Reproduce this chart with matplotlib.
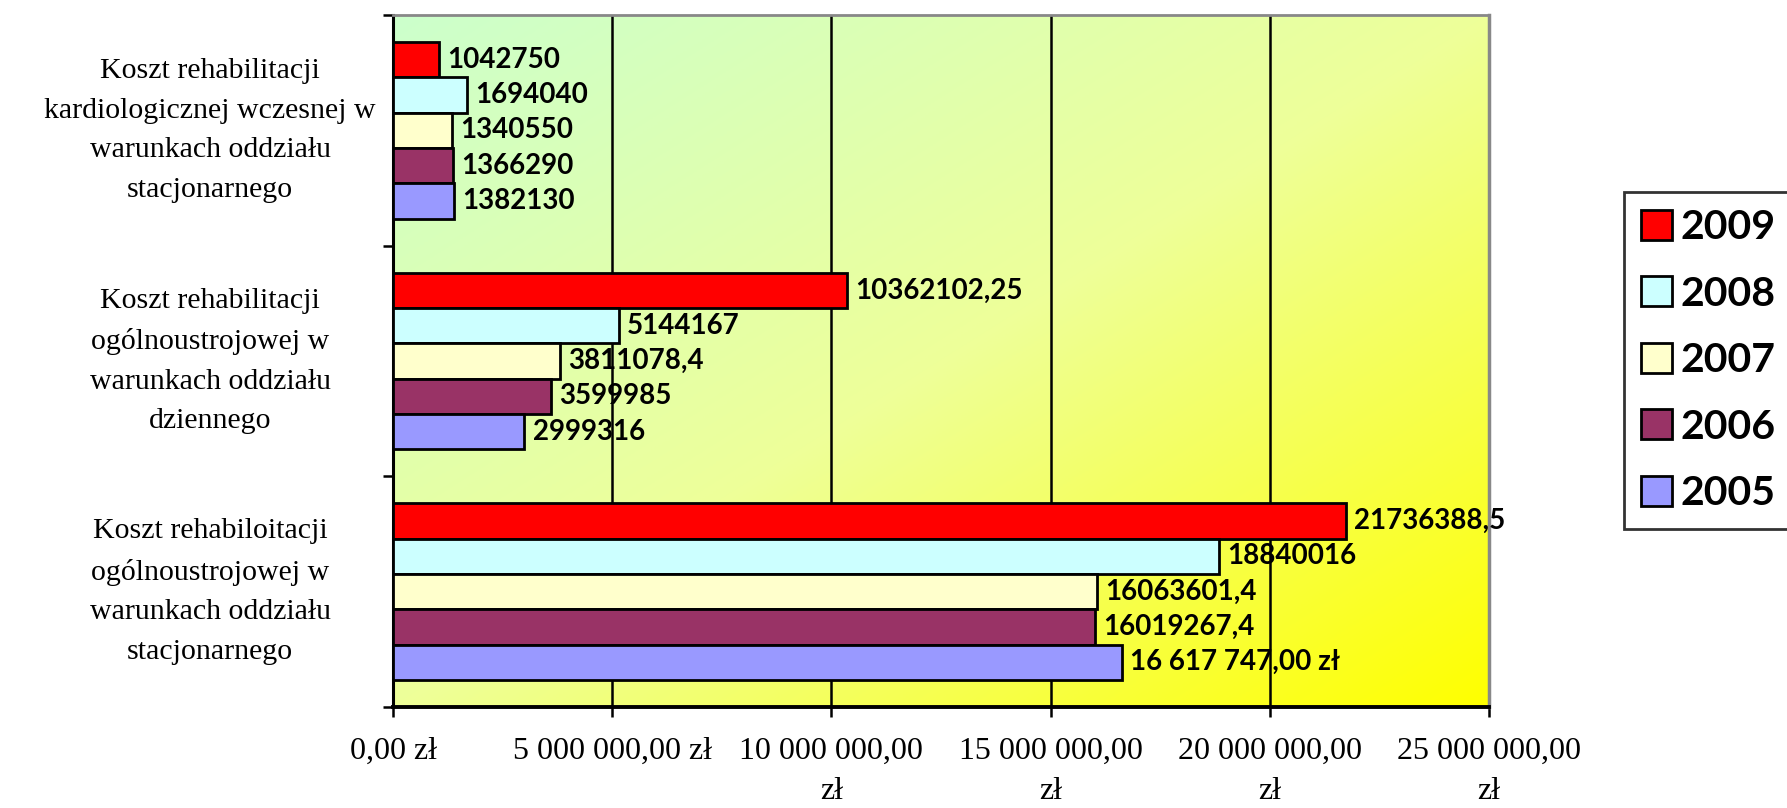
import numpy as np
import matplotlib
matplotlib.use("Agg")
import matplotlib.pyplot as plt
from matplotlib.patches import Patch
from matplotlib.colors import LinearSegmentedColormap
from matplotlib.transforms import blended_transform_factory

# ---- data ----
categories = [
    "Koszt rehabiloitacji\nogólnoustrojowej w\nwarunkach oddziału\nstacjonarnego",
    "Koszt rehabilitacji\nogólnoustrojowej w\nwarunkach oddziału\ndziennego",
    "Koszt rehabilitacji\nkardiologicznej wczesnej w\nwarunkach oddziału\nstacjonarnego",
]
years = ["2009", "2008", "2007", "2006", "2005"]
v2009 = [21736388.5, 10362102.25, 1042750]
v2008 = [18840016, 5144167, 1694040]
v2007 = [16063601.4, 3811078.4, 1340550]
v2006 = [16019267.4, 3599985, 1366290]
v2005 = [16617747.00, 2999316, 1382130]
labels2009 = ["21736388,5", "10362102,25", "1042750"]
labels2008 = ["18840016", "5144167", "1694040"]
labels2007 = ["16063601,4", "3811078,4", "1340550"]
labels2006 = ["16019267,4", "3599985", "1366290"]
labels2005 = ["16 617 747,00 zł", "2999316", "1382130"]
xticks = [0, 5000000, 10000000, 15000000, 20000000, 25000000]
xticklabels = ["0,00 zł", "5 000 000,00 zł", "10 000 000,00\nzł",
               "15 000 000,00\nzł", "20 000 000,00\nzł", "25 000 000,00\nzł"]
colors = ["#FF0000", "#CCFFFF", "#FFFFCC", "#993366", "#9999FF"]

series = [v2009, v2008, v2007, v2006, v2005]
series_labels = [labels2009, labels2008, labels2007, labels2006, labels2005]

W, H = 1787, 808
fig = plt.figure(figsize=(W/100, H/100), dpi=100)
ax = fig.add_axes([393/W, 1-707/H, 1096/W, 692/H])

# gradient background: light green top-left -> yellow bottom-right
n = 300
xx, yy = np.meshgrid(np.linspace(0, 1, n), np.linspace(0, 1, n))
t = (xx + yy) / 2.0  # row 0 is the top (origin upper)
cmap = LinearSegmentedColormap.from_list("bg", ["#CCFFCC", "#EEFF99", "#FFFF00"])
ax.imshow(t, cmap=cmap, extent=[0, 1, 0, 1], transform=ax.transAxes,
          aspect="auto", origin="upper", zorder=0, interpolation="bilinear")

h = 0.153
offsets = [2*h, h, 0, -h, -2*h]
ypos = np.arange(len(categories))
for vals, labs, col, off, yr in zip(series, series_labels, colors, offsets, years):
    ax.barh(ypos + off, vals, height=h, color=col, edgecolor="black",
            linewidth=2, zorder=3, label=yr)
    for y, v, lab in zip(ypos, vals, labs):
        ax.annotate(lab, (v, y + off), xytext=(6, 0), textcoords="offset points",
                    ha="left", va="center", fontsize=20, fontweight="bold",
                    family="Lato", color="black", zorder=5)

ax.set_xlim(0, 25000000)
ax.set_ylim(-0.5, 2.5)

ax.set_xticks(xticks)
ax.set_xticklabels(xticklabels, family="Liberation Serif", fontsize=23,
                   linespacing=1.5)
ax.tick_params(axis="x", direction="out", length=7.5, width=1.8, pad=14, color="black")
ax.set_yticks([-0.5, 0.5, 1.5, 2.5])
ax.set_yticklabels([])
ax.tick_params(axis="y", direction="out", length=7.5, width=1.8, color="black")

for x in xticks[1:-1]:
    ax.axvline(x, color="black", linewidth=1.8, zorder=1)

trans = blended_transform_factory(fig.transFigure, ax.transData)
for y, cat in zip(ypos, categories):
    ax.text(210/W, y, cat, transform=trans, ha="center", va="center",
            multialignment="center", family="Liberation Serif", fontsize=21.5,
            linespacing=1.68)

ax.spines["left"].set_color("black")
ax.spines["left"].set_linewidth(2.2)
ax.spines["bottom"].set_color("black")
ax.spines["bottom"].set_linewidth(2.8)
ax.spines["top"].set_color("#888888")
ax.spines["top"].set_linewidth(2)
ax.spines["right"].set_color("#888888")
ax.spines["right"].set_linewidth(2.5)

handles = [Patch(facecolor=c, edgecolor="black", linewidth=2, label=y)
           for c, y in zip(colors, years)]
leg = fig.legend(handles=handles, loc="upper left",
                 bbox_to_anchor=(1624/W, 1-192/H),
                 prop={"family": "Lato", "weight": "bold", "size": 29.5},
                 frameon=True, fancybox=False, edgecolor="black",
                 handlelength=0.75, handleheight=0.75, handletextpad=0.2,
                 labelspacing=0.72, borderpad=0.42, borderaxespad=0)
leg.get_frame().set_linewidth(2)

fig.savefig("out.png", dpi=100)
